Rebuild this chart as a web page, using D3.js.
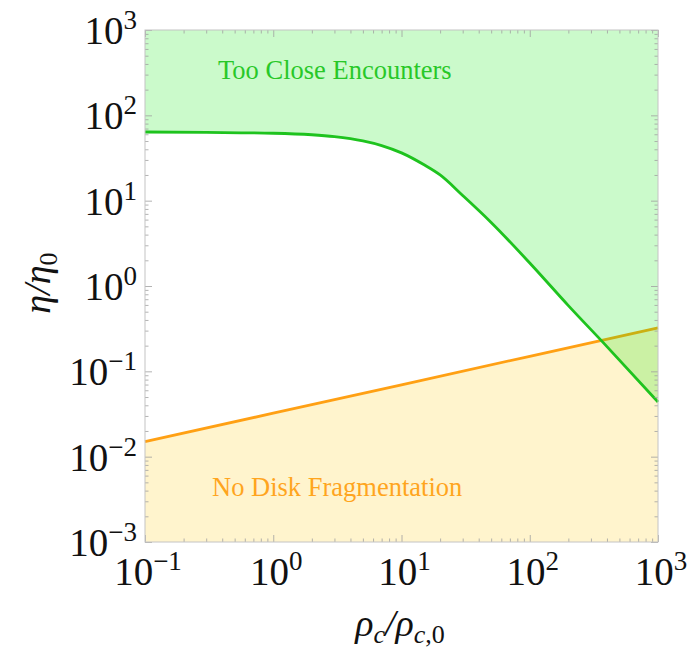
<!DOCTYPE html>
<html>
<head>
<meta charset="utf-8">
<script src="https://cdn.jsdelivr.net/npm/d3@7"></script>
</head>
<body style="margin:0">
<svg id="chart" width="692" height="652"></svg>
<script>
// Central density ratio (x) and encounter limit on eta/eta0 (upper boundary)
const rhoEnc = [0.1, 0.3, 1, 2, 3, 5, 7, 10, 15, 20, 30, 50, 100, 200, 400, 1000];
const etaEnc = [63.8, 63.0, 61.7, 59.2, 56.2, 50.1, 44.2, 36.3, 26.3, 20.0, 11.5, 5.56, 1.86, 0.589, 0.195, 0.0437];

// Disk fragmentation limit (lower boundary)
const rhoFrag = [0.1, 1, 10, 100, 1000];
const etaFrag = [0.0150, 0.0323, 0.0696, 0.150, 0.323];

// Axis decades
const xExps = [-1, 0, 1, 2, 3];
const yExps = [-3, -2, -1, 0, 1, 2, 3];

const serif = '"Liberation Serif"';
const svg = d3.select("#chart");
const plotL = 145, plotR = 658, plotT = 30, plotB = 542;

const x = d3.scaleLog().domain([0.1, 1000]).range([plotL, plotR]);
const y = d3.scaleLog().domain([1e-3, 1e3]).range([plotB, plotT]);

const encPts = rhoEnc.map((r, i) => [r, etaEnc[i]]);
const fragPts = rhoFrag.map((r, i) => [r, etaFrag[i]]);

// Fills and boundary curves
svg.append("path")
  .datum(fragPts)
  .attr("fill", "rgb(255,244,205)")
  .attr("d", d3.area().x(d => x(d[0])).y0(y(1e-3)).y1(d => y(d[1])));

svg.append("path")
  .datum(fragPts)
  .attr("fill", "none")
  .attr("stroke", "rgb(255,160,20)")
  .attr("stroke-width", 2.8)
  .attr("d", d3.line().x(d => x(d[0])).y(d => y(d[1])));

svg.append("path")
  .datum(encPts)
  .attr("fill", "rgb(20,230,20)")
  .attr("fill-opacity", 0.22)
  .attr("d", d3.area().curve(d3.curveMonotoneX).x(d => x(d[0])).y0(y(1e3)).y1(d => y(d[1])));

svg.append("path")
  .datum(encPts)
  .attr("fill", "none")
  .attr("stroke", "rgb(30,195,30)")
  .attr("stroke-width", 2.8)
  .attr("d", d3.line().curve(d3.curveMonotoneX).x(d => x(d[0])).y(d => y(d[1])));

// Frame and ticks
const tickCol = "#a0a0a0";
function minors(exps) {
  const out = [];
  for (let i = 0; i < exps.length - 1; i++)
    for (let m = 2; m <= 9; m++) out.push(m * Math.pow(10, exps[i]));
  return out;
}
const xMaj = xExps.map(e => Math.pow(10, e));
const yMaj = yExps.map(e => Math.pow(10, e));

function drawAxis(gen, tx, ty, vals, size) {
  const g = svg.append("g").attr("transform", `translate(${tx},${ty})`)
    .call(gen.tickValues(vals).tickSize(size).tickSizeOuter(0).tickFormat(""));
  g.select(".domain").remove();
  g.selectAll("line").attr("stroke", tickCol).attr("stroke-width", 0.8);
}
drawAxis(d3.axisBottom(x), 0, plotB, xMaj, -7);
drawAxis(d3.axisBottom(x), 0, plotB, minors(xExps), -3.5);
drawAxis(d3.axisTop(x), 0, plotT, xMaj, -7);
drawAxis(d3.axisTop(x), 0, plotT, minors(xExps), -3.5);
drawAxis(d3.axisLeft(y), plotL, 0, yMaj, -7);
drawAxis(d3.axisLeft(y), plotL, 0, minors(yExps), -3.5);
drawAxis(d3.axisRight(y), plotR, 0, yMaj, -7);
drawAxis(d3.axisRight(y), plotR, 0, minors(yExps), -3.5);

svg.append("rect")
  .attr("x", plotL).attr("y", plotT)
  .attr("width", plotR - plotL).attr("height", plotB - plotT)
  .attr("fill", "none").attr("stroke", "#c4c4c4").attr("stroke-width", 1);

// All text goes in one group carrying the serif face
const labels = svg.append("g").style("font-family", serif);

// Tick labels as powers of ten
function powLabel(sel, e) {
  sel.append("tspan").style("font-family", serif).attr("font-size", 39).text("10");
  sel.append("tspan").style("font-family", serif).attr("font-size", 27).attr("dy", -15)
    .text(e < 0 ? "\u2212" + (-e) : String(e));
}
xExps.forEach(e => {
  const t = labels.append("text").attr("x", x(Math.pow(10, e)) + 3).attr("y", 585)
    .style("font-family", serif)
    .attr("text-anchor", "middle").attr("fill", "#111");
  powLabel(t, e);
});
yExps.forEach(e => {
  const t = labels.append("text").attr("x", 137).attr("y", y(Math.pow(10, e)) + 14)
    .style("font-family", serif)
    .attr("text-anchor", "end").attr("fill", "#111");
  powLabel(t, e);
});

// Axis titles
const xt = labels.append("text").attr("x", 400).attr("y", 636)
  .style("font-family", serif)
  .attr("text-anchor", "middle").attr("fill", "#111").attr("font-style", "italic");
xt.append("tspan").attr("font-size", 38).text("\u03C1");
xt.append("tspan").attr("font-size", 26).attr("dy", 7).text("c");
xt.append("tspan").attr("font-size", 38).attr("dy", -7).text("/\u03C1");
xt.append("tspan").attr("font-size", 26).attr("dy", 7).text("c");
xt.append("tspan").attr("font-size", 26).attr("font-style", "normal").text(",0");

const yt = labels.append("text").attr("transform", "translate(50,283) rotate(-90)")
  .style("font-family", serif)
  .attr("text-anchor", "middle").attr("fill", "#111");
yt.append("tspan").attr("font-size", 38).attr("font-style", "italic").text("\u03B7/\u03B7");
yt.append("tspan").attr("font-size", 26).attr("dy", 7).text("0");

// Region labels
labels.append("text").attr("x", 218).attr("y", 79)
  .style("font-family", serif)
  .attr("font-size", 26.5).attr("fill", "rgb(40,200,40)")
  .text("Too Close Encounters");
labels.append("text").attr("x", 212).attr("y", 496)
  .style("font-family", serif)
  .attr("font-size", 26.5).attr("fill", "rgb(255,165,30)")
  .text("No Disk Fragmentation");
</script>
</body>
</html>
